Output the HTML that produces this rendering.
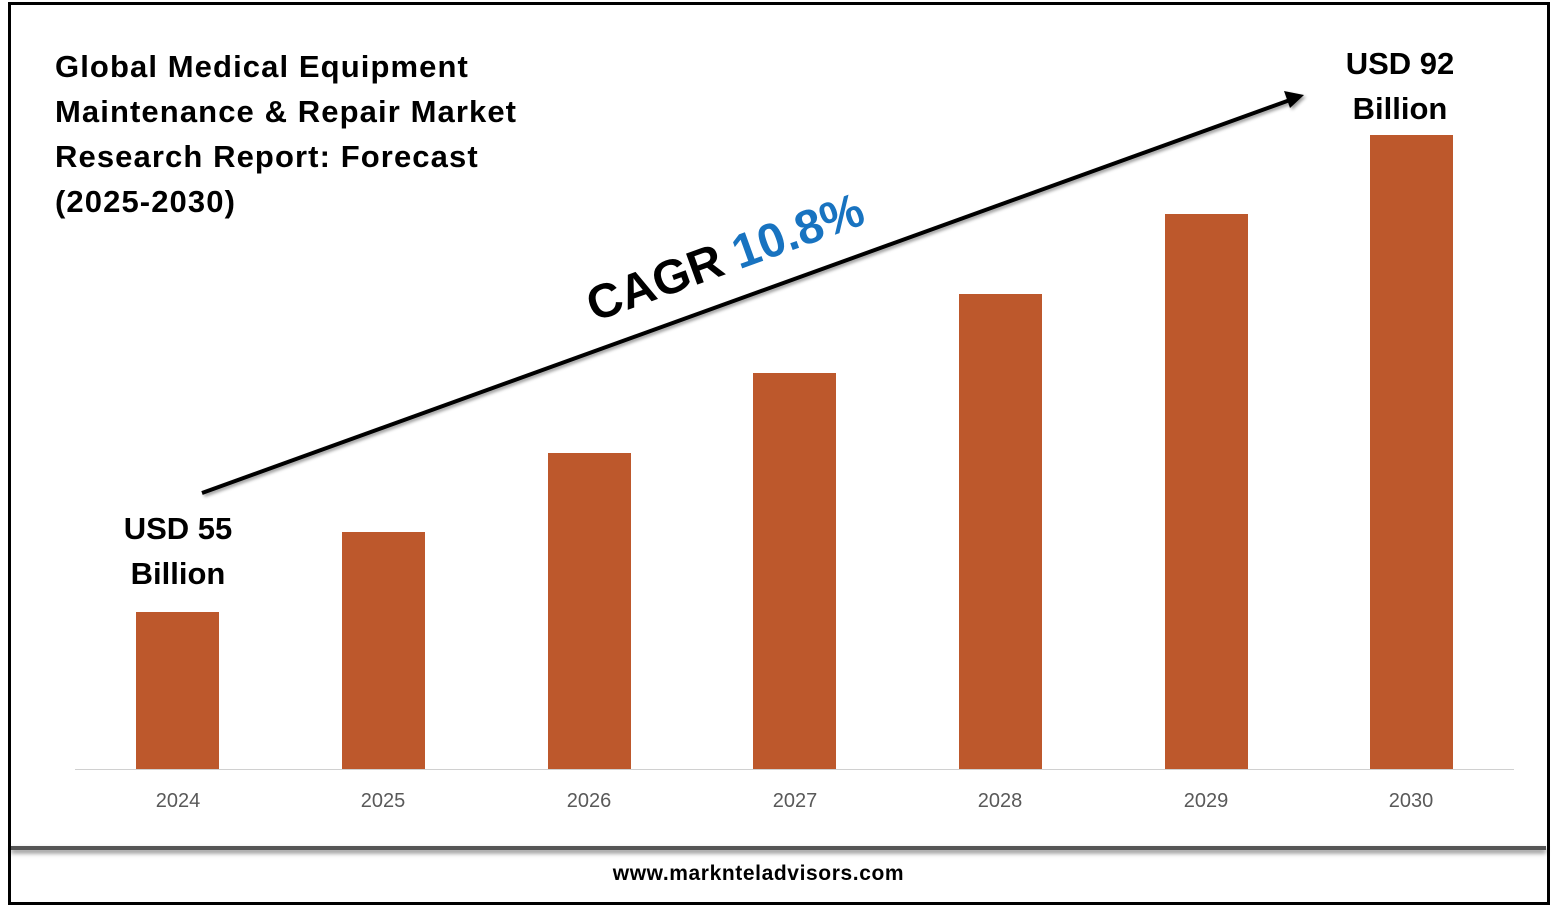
<!DOCTYPE html>
<html><head><style>
body{margin:0;width:1557px;height:907px;background:#fff;position:relative;overflow:hidden;font-family:"Liberation Sans",sans-serif}
.abs{position:absolute}
.bar{position:absolute;background:#bd582c;width:83px}
.yr{position:absolute;top:790px;width:100px;text-align:center;font-size:20px;color:#595959}
.t{font-weight:bold;color:#000}
</style></head><body>
<div class="abs" style="left:8px;top:2px;width:1536px;height:897px;border:3px solid #000"></div>
<div class="abs" style="left:11px;top:846px;width:1535px;height:4px;background:#555;box-shadow:0 3px 5px rgba(0,0,0,.5)"></div>
<div class="abs t" style="left:55px;top:44px;font-size:31px;letter-spacing:1.1px;line-height:45px">Global Medical Equipment<br>Maintenance &amp; Repair Market<br>Research Report: Forecast<br>(2025-2030)</div>
<div class="abs" style="left:75px;top:769px;width:1439px;height:1px;background:#d0d0d0"></div>
<div class="bar" style="left:136px;top:612px;height:157px"></div>
<div class="bar" style="left:342px;top:532px;height:237px"></div>
<div class="bar" style="left:548px;top:453px;height:316px"></div>
<div class="bar" style="left:753px;top:373px;height:396px"></div>
<div class="bar" style="left:959px;top:294px;height:475px"></div>
<div class="bar" style="left:1165px;top:214px;height:555px"></div>
<div class="bar" style="left:1370px;top:135px;height:634px"></div>
<div class="yr" style="left:128px">2024</div>
<div class="yr" style="left:333px">2025</div>
<div class="yr" style="left:539px">2026</div>
<div class="yr" style="left:745px">2027</div>
<div class="yr" style="left:950px">2028</div>
<div class="yr" style="left:1156px">2029</div>
<div class="yr" style="left:1361px">2030</div>
<div class="abs t" style="left:108px;top:506px;width:140px;text-align:center;font-size:31px;line-height:45px">USD 55<br>Billion</div>
<div class="abs t" style="left:1330px;top:41px;width:140px;text-align:center;font-size:31px;line-height:45px">USD 92<br>Billion</div>
<svg class="abs" style="left:0;top:0" width="1557" height="907">
<defs><filter id="s"><feDropShadow dx="2" dy="2" stdDeviation="1.5" flood-opacity=".4"/></filter></defs>
<g filter="url(#s)"><line x1="202" y1="493" x2="1290" y2="100" stroke="#000" stroke-width="4"/>
<polygon points="1304,95 1284,91 1290,108" fill="#000"/></g>
<text transform="translate(594,322) rotate(-19.9)" font-family="Liberation Sans" font-weight="bold" font-size="48"><tspan fill="#000">CAGR </tspan><tspan fill="#1873c0">10.8%</tspan></text>
</svg>
<div class="abs t" style="left:0;width:1517px;top:862px;text-align:center;font-size:21px;letter-spacing:0.6px">www.marknteladvisors.com</div>
</body></html>
